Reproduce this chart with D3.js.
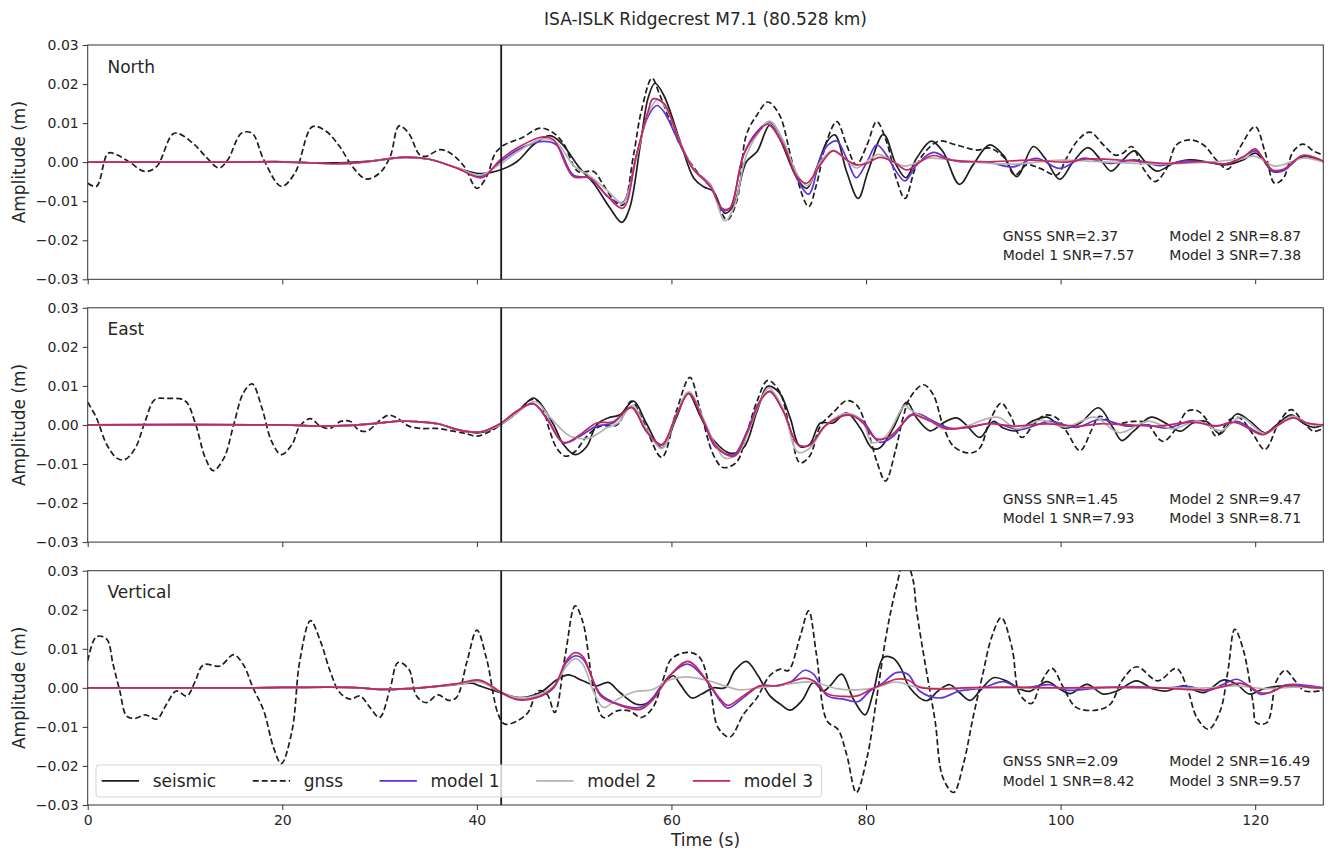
<!DOCTYPE html>
<html lang="en">
<head>
<meta charset="UTF-8">
<title>ISA-ISLK Ridgecrest M7.1</title>
<script src="https://cdn.jsdelivr.net/npm/d3@7"></script>
<style>
  body { margin: 0; background: #fff; }
  svg { display: block; font-family: "DejaVu Sans", sans-serif; }
</style>
</head>
<body>
<svg id="chart" width="1330" height="852"></svg>
<script>
// waveform samples: [time (s), amplitude (m)]
const northSeismic = [[0,0],[10,0],[20,0],[25,-0.0002],[29,0.0003],[32.5,0.0012],[35,0.0008],[38,-0.0015],[40.3,-0.0029],[42.4,-0.002],[44.1,0.0001],[45.8,0.0044],[47.5,0.0068],[48.7,0.0048],[50.6,-0.0016],[52.0,-0.0054],[53.7,-0.0118],[54.9,-0.0154],[55.7,-0.0118],[56.8,0.0044],[57.6,0.0164],[58.3,0.0202],[59.2,0.0172],[60.9,0.0053],[62.3,-0.0041],[63.3,-0.0063],[64.3,-0.0075],[65.5,-0.0131],[66.4,-0.011],[67.7,0.0001],[68.8,0.0027],[70.1,0.0095],[71.1,0.0061],[72.9,-0.0041],[73.9,-0.0067],[74.9,-0.0016],[76.0,0.0053],[76.8,0.007],[78.0,-0.0024],[79.2,-0.0093],[80.2,-0.0024],[81.8,0.0071],[83.1,-0.0007],[84.1,-0.004],[85.2,0.001],[86.7,0.0054],[87.9,0.0027],[89.6,-0.0057],[91.0,-0.0007],[92.7,0.0044],[94.1,0.0018],[95.5,-0.0037],[97.2,0.004],[98.4,0.001],[99.9,-0.0044],[101.3,0.0001],[102.8,0.0037],[104.0,0.001],[105.2,-0.0023],[106.4,0.0006],[107.6,0.0029],[108.7,0.0001],[109.9,-0.0023],[111.6,-0.0003],[113.3,0.0006],[115.0,0.0001],[116.9,-0.0007],[118.8,0.0006],[120.0,0.0023],[120.8,0.0006],[121.8,-0.0024],[122.9,-0.002],[124.9,0.0014],[127,0.0001]];
const northGnss = [[0,-0.0054],[0.9,-0.0062],[2.1,0.0023],[3,0.0019],[4.3,0],[5.9,-0.0024],[7.1,-0.0011],[8.9,0.0074],[10.8,0.0049],[12.1,0.0015],[13.5,-0.0015],[14.4,0.0006],[15.8,0.0074],[16.9,0.0074],[18.1,0.0006],[19.9,-0.0062],[21.3,-0.0028],[23.1,0.0091],[24.5,0.0079],[25.9,0.004],[27.2,-0.0011],[28.6,-0.0043],[30.0,-0.0028],[31.1,0.0015],[32.0,0.0093],[33.0,0.0074],[34.1,0.0019],[34.8,0.0015],[36.2,0.0032],[37.3,0.0023],[38.7,-0.0011],[40.0,-0.0067],[41.0,-0.0037],[41.9,0.0023],[42.8,0.0044],[44.6,0.0062],[46.5,0.0087],[47.7,0.0078],[48.9,0.0048],[50.4,-0.0024],[52.0,-0.0024],[53.0,-0.0058],[54.2,-0.0101],[55.0,-0.011],[56.1,0.0018],[56.9,0.013],[58.0,0.0215],[58.8,0.0172],[60.9,0.0044],[62.6,-0.0024],[64.1,-0.0067],[65.7,-0.0148],[66.7,-0.0101],[67.7,0.007],[68.8,0.0121],[69.9,0.0154],[71.1,0.0121],[72.5,-0.0007],[74.1,-0.0114],[74.9,-0.0058],[76.0,0.0057],[77.0,0.0104],[78.0,0.0044],[79.0,-0.0007],[80.1,0.0044],[81.1,0.0104],[82.1,0.0053],[83.1,-0.0041],[84.0,-0.0093],[85.2,-0.0007],[86.6,0.004],[87.6,0.0054],[89.3,0.0044],[91.4,0.0031],[92.7,0.0036],[94.1,0.0014],[95.3,-0.0033],[96.5,-0.0007],[97.9,-0.0016],[99.6,-0.0033],[100.6,0.001],[101.8,0.0057],[103.0,0.0077],[104.4,0.0044],[105.6,0.0018],[106.4,0.0023],[107.3,0.004],[108.5,-0.0016],[109.7,-0.005],[110.9,-0.0016],[111.9,0.0044],[113.3,0.0057],[114.7,0.0044],[116.0,0.0006],[117.2,-0.0018],[118.4,0.0036],[120.0,0.0091],[121.0,0.0027],[122.0,-0.0054],[122.9,-0.0041],[123.9,0.0027],[124.9,0.0046],[126.1,0.0027],[127,0.0018]];
const northModel1 = [[0,0],[15,0],[20,0.0001],[26,-0.0004],[29,0.0002],[32.5,0.0012],[35,0.0008],[38,-0.0015],[40.3,-0.0037],[42.4,0.0001],[44.4,0.0034],[46.8,0.0053],[48.2,0.0044],[49.9,-0.0033],[51.6,-0.0041],[53.7,-0.0093],[55.0,-0.0103],[56.4,0.0018],[57.6,0.0117],[58.5,0.0145],[59.2,0.013],[60.9,0.0044],[62.2,-0.0016],[64.0,-0.0058],[65.2,-0.0123],[66.0,-0.0118],[67.4,0.0018],[68.8,0.0078],[70.1,0.0102],[71.5,0.0053],[72.9,-0.0041],[74.1,-0.0082],[75.3,0.001],[76.1,0.0044],[77.0,0.0054],[78.0,0.001],[79.0,-0.004],[80.1,0.0001],[81.1,0.0044],[82.1,0.0018],[83.1,-0.0024],[84.0,-0.0048],[85.2,-0.0007],[86.9,0.0025],[88.3,0.001],[89.6,0.0001],[92.4,0.0001],[95.1,-0.0012],[97.5,0.001],[99.9,-0.0016],[102.3,0.001],[105.1,-0.0003],[107.5,0.0006],[110.2,-0.0009],[112.6,0.0003],[115.0,0],[117.1,-0.0004],[118.8,0.0014],[120.0,0.0029],[120.8,0.001],[121.8,-0.0024],[122.9,-0.0022],[124.9,0.0017],[127,0.0001]];
const northModel2 = [[0,0],[15,0],[20,0.0001],[26,-0.0004],[29,0.0002],[32.5,0.0012],[35,0.0008],[38,-0.0014],[40.3,-0.0033],[42.4,-0.0005],[44.4,0.003],[46.8,0.006],[48.2,0.005],[50,-0.001],[51.6,-0.0035],[53.5,-0.0075],[55,-0.0105],[56.4,0.001],[57.6,0.0125],[58.6,0.016],[59.4,0.014],[61,0.0045],[62.5,-0.0025],[64,-0.006],[65.5,-0.015],[66.5,-0.011],[67.6,0.001],[68.8,0.007],[70.1,0.0105],[71.5,0.0055],[72.9,-0.003],[74,-0.006],[75.3,0],[76.6,0.003],[78,0.0005],[79,-0.0015],[80,0],[81.3,0.002],[82.5,0.0005],[84,-0.001],[86.5,0.001],[90,0.0002],[95,-0.0005],[100,0.0005],[105,0],[110,-0.0005],[115,0],[118.5,0.0008],[120,0.0015],[122,-0.001],[125,0.001],[127,0]];
const northModel3 = [[0,0],[15,0],[20,0.0001],[26,-0.0004],[29,0.0002],[32.5,0.0013],[35,0.0008],[38,-0.0016],[40.5,-0.004],[42.4,0.0006],[44.4,0.004],[46.8,0.0065],[47.9,0.0057],[49.9,-0.0037],[51.6,-0.004],[53.3,-0.0084],[55.0,-0.0118],[56.4,0.0018],[57.6,0.013],[58.1,0.0162],[59.2,0.0151],[60.9,0.0048],[62.2,-0.0016],[64.0,-0.0063],[65.2,-0.0118],[66.0,-0.0118],[67.4,0.0018],[68.8,0.0074],[69.9,0.0097],[71.5,0.0044],[72.9,-0.0037],[73.9,-0.0054],[75.3,-0.0007],[76.6,0.0029],[78.0,0.0006],[79.0,-0.0007],[80.1,-0.0003],[81.4,0.0012],[82.8,0.0001],[84.2,-0.002],[85.5,0],[86.9,0.0017],[88.6,0.0006],[92.0,0.0001],[97.2,0.0005],[100.6,0],[102.7,0.0008],[107.5,0.0003],[110.9,-0.0003],[114.3,0.0001],[117.1,-0.0004],[118.8,0.0014],[120.0,0.0034],[120.8,0.001],[121.8,-0.002],[122.9,-0.0018],[124.9,0.0017],[127,0.0003]];

const eastSeismic = [[0,0],[20,0],[24,-0.0003],[27,-0.0001],[30,0.0005],[32,0.001],[34,0.0008],[36,0.0003],[38,-0.0012],[40.3,-0.002],[42.4,0],[44.1,0.0031],[45.8,0.0069],[46.5,0.0056],[47.9,0],[48.9,-0.005],[50.1,-0.0076],[51.3,-0.0055],[52.3,0],[53.5,0.0018],[54.7,0.0026],[56.1,0.0061],[57.4,0.0005],[59.0,-0.0059],[60.5,0.0018],[61.7,0.0082],[62.9,0.0026],[64.3,-0.0038],[66.0,-0.0072],[67.4,-0.0059],[68.8,0.0035],[69.9,0.0099],[71.1,0.0082],[72.2,0.0018],[73.2,-0.0055],[74.2,-0.005],[75.3,0.0005],[76.6,0.0005],[78.0,0.0031],[79.4,-0.0008],[80.6,-0.0059],[81.4,-0.0059],[82.8,-0.0008],[84.2,0.0058],[85.2,0.0018],[86.6,-0.0015],[87.9,0.0005],[89.3,0.0018],[90.3,0],[91.7,-0.0032],[93.1,0.0009],[94.1,-0.0008],[95.5,-0.0015],[97.2,0.0011],[98.6,0.002],[100.3,-0.0008],[102.0,0.0005],[103.9,0.0044],[105.4,-0.0008],[106.3,-0.004],[107.5,-0.0016],[109.3,0.002],[110.9,0.0003],[112.3,-0.0016],[113.6,0.0005],[115.0,0.0009],[116.4,-0.0023],[118.1,0.0028],[119.5,0.0009],[121.0,-0.002],[122.2,0],[123.7,0.0026],[124.9,0.0005],[126,-0.0006],[127,0]];
const eastGnss = [[0,0.0058],[0.9,0.0018],[1.95,-0.005],[3.0,-0.0085],[3.8,-0.0089],[4.9,-0.0059],[5.9,0.0009],[6.9,0.0065],[8.1,0.0068],[10.0,0.0062],[11.0,0.0009],[12.1,-0.0085],[12.9,-0.0117],[14.0,-0.0085],[15.0,0],[16.0,0.0082],[16.9,0.0105],[17.9,0.0044],[18.9,-0.0042],[19.9,-0.0076],[21.0,-0.005],[21.8,-0.0003],[22.9,0.0016],[23.9,-0.0003],[24.9,-0.0009],[26.0,0.0009],[27.0,0.0009],[27.8,-0.0012],[28.7,-0.0016],[29.9,0.0009],[30.9,0.0025],[31.8,0.0018],[33.0,-0.0003],[34.2,-0.0009],[35.9,-0.0009],[37.6,-0.0016],[39.0,-0.0023],[40.0,-0.0029],[41.4,-0.0016],[42.4,0],[44.1,0.0031],[45.6,0.0065],[46.5,0.0056],[47.5,-0.0016],[48.2,-0.0059],[49.1,-0.008],[50.1,-0.0068],[51.3,-0.0029],[52.7,-0.0003],[54.4,0],[55.9,0.0061],[57.1,0.0009],[59.0,-0.0083],[60.5,0.0035],[61.9,0.0122],[62.9,0.0044],[64.3,-0.0076],[65.3,-0.0109],[66.7,-0.0095],[67.7,-0.0025],[68.8,0.0061],[69.9,0.0114],[71.1,0.0086],[72.3,-0.0025],[73.2,-0.0097],[74.2,-0.008],[75.3,-0.0003],[76.6,0.0031],[78.0,0.0062],[79.0,0.0052],[80.1,-0.0008],[81.1,-0.0093],[82.0,-0.0144],[83.0,-0.0068],[83.8,0.0018],[84.5,0.0069],[85.9,0.0103],[86.9,0.0078],[87.9,0],[89.0,-0.0055],[90.7,-0.0072],[91.7,-0.0059],[92.7,0.0009],[93.9,0.0056],[94.8,0.0026],[96.0,-0.0032],[97.2,0],[98.4,0.0025],[99.6,0.0018],[100.6,-0.0016],[102.0,-0.0066],[103.2,-0.0012],[104.0,0.0022],[105.4,0.0003],[107.5,0.0009],[108.8,0.0005],[110.5,-0.0042],[111.9,-0.0008],[113.0,0.0035],[114.0,0.0037],[115.0,0.0014],[116.0,-0.0029],[117.4,0.0014],[118.4,0.0018],[119.8,-0.0025],[121.0,-0.0063],[122.5,0.0009],[123.7,0.0039],[124.9,0.0009],[126,-0.0016],[127,-0.0009]];
const eastModel1 = [[0,0],[20,0],[24,-0.0003],[27,-0.0001],[30,0.0005],[32,0.001],[34,0.0008],[36,0.0003],[38,-0.0012],[40.3,-0.0018],[42.4,0.0003],[44.1,0.0035],[45.8,0.0054],[47.2,0.0018],[48.9,-0.0046],[50.6,-0.0029],[52.3,-0.0003],[54.0,0.0005],[55.9,0.0045],[57.4,-0.0016],[59.0,-0.0052],[60.5,0.0026],[61.8,0.0082],[63.3,0.0009],[64.6,-0.0059],[66.4,-0.0076],[67.7,-0.002],[69.1,0.0062],[70.1,0.0086],[71.5,0.0035],[73.0,-0.005],[74.2,-0.0052],[75.9,0],[78.3,0.0028],[79.7,0.0009],[81.4,-0.0044],[82.8,-0.0029],[84.5,0.0025],[85.5,0.0028],[86.6,0.0014],[88.6,-0.0008],[90.7,-0.0006],[93.1,0.0005],[95.8,-0.0012],[98.9,0.0009],[101.6,-0.0006],[104.0,0.0014],[106.8,-0.0003],[108.8,0],[110.9,-0.0008],[113.6,0.0011],[116.0,-0.0003],[118.1,0.0009],[120.8,-0.0023],[122.2,-0.0003],[123.9,0.0022],[125.3,0.0005],[127,0]];
const eastModel2 = [[0,0],[20,0],[24,-0.0003],[27,-0.0001],[30,0.0005],[32,0.001],[34,0.0008],[36,0.0003],[38,-0.0012],[40.3,-0.0018],[42.4,0],[44.1,0.003],[46,0.006],[47.5,0.002],[49.6,-0.0029],[51.6,-0.0033],[53.3,-0.0008],[54.5,0.0005],[56,0.005],[57.4,-0.001],[59,-0.006],[60.5,0.0025],[61.8,0.0085],[63.3,0.0015],[64.6,-0.0055],[65.5,-0.0085],[66.8,-0.0075],[68,-0.001],[69.3,0.007],[70,0.0095],[71.5,0.004],[73,-0.007],[74.2,-0.006],[75.9,0],[78,0.003],[79.7,0.0005],[80.6,-0.0045],[82,-0.003],[84,0.005],[84.5,0.004],[86.6,0.001],[88,-0.001],[90,-0.0005],[93.5,0.002],[95.5,-0.001],[98,0.0012],[100.5,-0.0005],[103.5,0.002],[106,-0.002],[109,0.001],[111.5,-0.001],[114,0.001],[116.5,-0.0015],[118.5,0.002],[121,-0.0022],[123.8,0.0022],[125.5,0.0002],[127,0]];
const eastModel3 = [[0,0],[20,0],[24,-0.0003],[27,-0.0001],[30,0.0005],[32,0.001],[34,0.0008],[36,0.0003],[38,-0.0012],[40.3,-0.0018],[42.4,0.0003],[44.1,0.0035],[45.8,0.0055],[47.2,0.0015],[48.9,-0.0045],[50.6,-0.0025],[52.3,0.0005],[54.0,0.0008],[55.9,0.0045],[57.4,-0.0015],[59.0,-0.005],[60.5,0.0025],[61.8,0.008],[63.3,0.001],[64.6,-0.0055],[66.4,-0.008],[67.7,-0.0025],[69.1,0.006],[70.1,0.0086],[71.5,0.0035],[73.0,-0.005],[74.2,-0.0052],[75.9,0],[78.3,0.0025],[79.7,0.0005],[81.0,-0.0035],[82.4,-0.003],[84.5,0.0022],[84.9,0.0026],[86.6,0.001],[88.3,-0.001],[90.5,-0.0005],[92.5,0.0003],[95.5,-0.0003],[98.5,0.0003],[102,-0.0003],[104,0.0003],[107,0],[110,-0.0003],[113.5,0.0007],[116,-0.0002],[118,0.0006],[120.8,-0.0025],[122.2,-0.0003],[123.9,0.0018],[125.3,0.0005],[127,0]];

const vertSeismic = [[0,0],[17,0],[20,0.0001],[25,0.0002],[28,0],[30,-0.0004],[33,-0.0002],[35,0.0002],[37,0.0006],[39.5,0.0012],[40.3,0.0005],[42.4,-0.0012],[44.4,-0.0025],[46.5,-0.0012],[48.2,0.002],[49.4,0.0033],[50.9,0.0018],[52.3,0.0005],[53.5,0.0014],[54.7,-0.0012],[56.4,-0.0042],[57.6,-0.0038],[59.0,0.0005],[60.2,0.0031],[60.9,0.0009],[62.1,-0.0026],[63.1,-0.0016],[64.3,0],[65.5,0],[66.5,0.0044],[67.7,0.0068],[68.9,0.0031],[70.1,-0.002],[71.2,-0.0042],[72.2,-0.0057],[73.4,-0.0033],[74.6,0.0014],[75.6,-0.0008],[76.3,0.0005],[77.5,0.0035],[78.7,-0.0029],[79.9,-0.0069],[80.7,-0.0016],[81.8,0.0078],[82.8,0.0076],[83.6,0.005],[84.5,0],[86.2,-0.0033],[87.4,-0.0008],[88.6,0.0008],[89.6,-0.0012],[90.7,-0.0032],[91.7,-0.0008],[93.1,0.0026],[94.4,0.0018],[95.8,-0.0003],[96.8,-0.0009],[98.6,0.0016],[99.9,-0.0003],[101.0,-0.0015],[102.7,0.0009],[104.4,-0.0016],[105.8,-0.0008],[107.8,0.0018],[109.5,-0.0003],[110.9,-0.0008],[112.6,0.0005],[114.7,-0.0012],[116.7,0.002],[118.1,0.0009],[119.4,-0.0016],[120.8,-0.0003],[122.9,0.0005],[127,0]];
const vertGnss = [[0,0.0069],[0.9,0.0131],[1.95,0.0125],[2.6,0.0061],[3.3,-0.0008],[4.0,-0.0072],[4.9,-0.0078],[5.9,-0.0069],[7.1,-0.008],[8.1,-0.0042],[9.1,-0.0008],[10.2,-0.0021],[11.0,0.0014],[11.9,0.0059],[13.6,0.0056],[15.0,0.0085],[16.0,0.0059],[17.0,0],[18.1,-0.0059],[19.1,-0.0153],[19.9,-0.0194],[21.0,-0.011],[21.8,0.0069],[22.9,0.0172],[23.9,0.0121],[24.9,0.0044],[25.9,-0.0012],[27.0,-0.0029],[28.0,-0.0021],[29.0,-0.005],[30.0,-0.0076],[31.1,0],[31.9,0.0065],[33.0,0.0048],[33.8,-0.0021],[34.8,-0.0038],[36.0,-0.0018],[37.1,-0.0032],[37.9,-0.0025],[39.0,0.0069],[40.0,0.0148],[41.0,0.0074],[42.2,-0.0068],[42.9,-0.0093],[45.1,-0.0068],[46.3,-0.0008],[47.2,-0.0016],[48.0,-0.0063],[49.1,0.0086],[50.1,0.021],[50.9,0.0168],[52.0,0],[53.0,-0.0076],[54.4,-0.0059],[55.7,-0.0059],[56.9,-0.0076],[58.1,-0.005],[59.2,0.0026],[60.0,0.0074],[61.7,0.0091],[62.9,0.0078],[64.0,-0.0008],[64.8,-0.0102],[66.0,-0.0126],[67.4,-0.0068],[68.8,-0.0025],[70.1,0.0031],[71.2,0.0048],[72.0,0.0044],[73.2,0.0129],[74.1,0.0197],[74.9,0.0086],[76.0,-0.0085],[77.1,-0.0106],[78.0,-0.017],[79.0,-0.0268],[80.1,-0.0179],[81.1,-0.0025],[82.1,0.0138],[83.1,0.0257],[84.0,0.033],[84.8,0.028],[85.2,0.0197],[86.2,0.0044],[87.1,-0.0085],[87.9,-0.023],[89.0,-0.0268],[90.0,-0.0196],[91.0,-0.0076],[92.0,0.0035],[92.9,0.0129],[93.9,0.018],[95.0,0.0103],[95.8,-0.0016],[97.0,-0.004],[98.0,0.0014],[99.1,0.005],[100.3,0],[101.6,-0.005],[103.7,-0.0057],[105.1,-0.0042],[106.3,0.0018],[107.8,0.0054],[110.0,0.0018],[111.9,0.005],[113.0,0],[114.0,-0.0076],[115.2,-0.0106],[116.4,-0.0059],[117.2,0.0044],[117.9,0.015],[118.8,0.0095],[119.8,-0.0042],[120.1,-0.0089],[121.2,-0.0089],[122.2,0.0018],[123.1,0.0045],[124.1,0.0018],[125.1,-0.0008],[127,-0.0006]];
const vertModel1 = [[0,0],[17,0],[20,0.0001],[25,0.0002],[28,0],[30,-0.0004],[33,-0.0002],[35,0.0002],[38,0.001],[40.3,0.0018],[42.4,-0.0012],[44.1,-0.0029],[46.1,-0.0025],[47.9,0],[49.2,0.0065],[50.1,0.0082],[50.9,0.0074],[52.7,-0.0016],[54.4,-0.004],[56.8,-0.005],[58.1,-0.0025],[59.8,0.0031],[61.7,0.0061],[63.6,0.0018],[65.0,-0.0033],[65.8,-0.0052],[67.4,-0.0025],[69.1,0.0005],[70.8,0.0005],[72.2,0.0014],[73.7,0.0045],[74.6,0.0035],[76.0,-0.002],[77.7,-0.0029],[79.2,-0.0035],[80.4,-0.0008],[81.8,0.0014],[83.1,0.0039],[84.3,0.0035],[85.5,-0.0008],[87.6,-0.0026],[89.6,-0.0008],[92.0,0],[94.1,0.0016],[95.8,0],[98.9,0.0008],[100.6,-0.0006],[104.0,0],[107.5,0.0003],[110.9,0],[113.3,0.0003],[115.0,-0.0008],[116.7,0.0009],[118.1,0.0022],[119.1,0.0009],[120.5,-0.0016],[121.5,-0.0012],[123.2,0.0008],[127,0]];
const vertModel2 = [[0,0],[17,0],[20,0.0001],[25,0.0002],[28,0],[30,-0.0004],[33,-0.0002],[35,0.0002],[38,0.0009],[40.3,0.0015],[42.4,-0.001],[44.1,-0.0025],[46.1,-0.002],[47.9,0.0005],[49.2,0.0055],[50.1,0.0075],[50.9,0.006],[52.0,-0.001],[53,-0.005],[54.4,-0.003],[56.2,-0.001],[58,-0.0005],[59.8,0.002],[61.5,0.0028],[63.5,0.002],[65.5,0.0005],[67,-0.0005],[69,0],[72,0.001],[74.5,0.0015],[77,-0.0002],[79,-0.0005],[81,0],[83,0.0015],[85,0.0003],[88,-0.0002],[92,0],[100,0],[105,0.0001],[110,0],[115,0],[118,0.0005],[121,-0.0002],[124,0.0002],[127,0]];
const vertModel3 = [[0,0],[17,0],[20,0.0001],[25,0.0002],[28,0],[30,-0.0004],[33,-0.0002],[35,0.0002],[38,0.0011],[40.3,0.002],[42.4,-0.001],[44.1,-0.003],[46.1,-0.0025],[47.9,0.0002],[49.2,0.007],[50.1,0.009],[50.9,0.008],[52.7,-0.002],[54.4,-0.0042],[56.8,-0.0055],[58.1,-0.003],[59.8,0.003],[61.7,0.0068],[63.6,0.002],[65.0,-0.0028],[65.8,-0.0045],[67.4,-0.002],[69.1,0.0005],[70.8,0.0005],[72.2,0.0015],[73.7,0.0025],[74.6,0.0018],[76.0,-0.0015],[77.7,-0.0022],[79.2,-0.002],[80.4,-0.0005],[81.8,0.001],[83.1,0.0022],[84.3,0.002],[85.5,0.0002],[87.6,-0.0003],[90,0],[94,0.0002],[100,0],[105,0.0001],[110,0],[115,-0.0005],[117,0.0005],[118.3,0.0012],[119.3,0.0005],[120.5,-0.0012],[121.5,-0.0012],[123,0.0005],[124,0.0007],[125.5,0.0001],[127,0]];

const components = ["North", "East", "Vertical"];
const seriesNames = ["seismic", "gnss", "model 1", "model 2", "model 3"];
const snrGnss = ["2.37", "1.45", "2.09"];
const snrModel1 = ["7.57", "7.93", "8.42"];
const snrModel2 = ["8.87", "9.47", "16.49"];
const snrModel3 = ["7.38", "8.71", "9.57"];
const xTicks = [0, 20, 40, 60, 80, 100, 120];
const yTicks = [-0.03, -0.02, -0.01, 0, 0.01, 0.02, 0.03];
const onsetTime = 42.5;

const panelData = [
  [northSeismic, northGnss, northModel1, northModel2, northModel3],
  [eastSeismic, eastGnss, eastModel1, eastModel2, eastModel3],
  [vertSeismic, vertGnss, vertModel1, vertModel2, vertModel3]
];

const lineStyles = [
  {color: "#1e1e1e", dash: null},
  {color: "#1e1e1e", dash: "6,3"},
  {color: "#6234d8", dash: null},
  {color: "#b3b3b3", dash: null},
  {color: "#c6265f", dash: null}
];

const svg = d3.select("#chart");
const textColor = "#262626";
const left = 87.7, right = 1323.3;
const panelTops = [45, 307.8, 570.7];
const panelH = 234.3;

const x = d3.scaleLinear().domain([0, 127]).range([left, right]);

// title
svg.append("text")
  .attr("x", (left + right) / 2).attr("y", 25)
  .attr("text-anchor", "middle")
  .attr("font-size", 17).attr("fill", textColor)
  .text("ISA-ISLK Ridgecrest M7.1 (80.528 km)");

panelData.forEach((series, i) => {
  const top = panelTops[i];
  const y = d3.scaleLinear().domain([-0.03, 0.03]).range([top + panelH, top]);
  const g = svg.append("g");

  // clip so traces stay inside the axes box
  svg.append("clipPath").attr("id", "clip" + i)
    .append("rect").attr("x", left).attr("y", top)
    .attr("width", right - left).attr("height", panelH);

  const line = d3.line()
    .x(d => x(d[0]))
    .y(d => y(d[1]))
    .curve(d3.curveCatmullRom.alpha(0.5));

  const traces = g.append("g").attr("clip-path", `url(#clip${i})`);
  series.forEach((pts, k) => {
    traces.append("path")
      .datum(pts)
      .attr("fill", "none")
      .attr("stroke", lineStyles[k].color)
      .attr("stroke-width", 1.7)
      .attr("stroke-dasharray", lineStyles[k].dash)
      .attr("stroke-linejoin", "round")
      .attr("d", line);
  });

  // P-wave onset marker
  g.append("line")
    .attr("x1", x(onsetTime)).attr("x2", x(onsetTime))
    .attr("y1", top).attr("y2", top + panelH)
    .attr("stroke", "#1a1a1a").attr("stroke-width", 1.8);

  // axes
  const yAxis = g.append("g").attr("transform", `translate(${left},0)`)
    .call(d3.axisLeft(y).tickValues(yTicks).tickSize(5).tickPadding(4)
      .tickFormat(d3.format(".2f")));
  const xAxis = g.append("g").attr("transform", `translate(0,${top + panelH})`)
    .call(d3.axisBottom(x).tickValues(xTicks).tickSize(5).tickPadding(5)
      .tickFormat(i === 2 ? d3.format("d") : () => ""));
  [yAxis, xAxis].forEach(a => {
    a.select(".domain").remove();
    a.selectAll("line").attr("stroke", "#333");
    a.selectAll("text").attr("font-size", 14).attr("fill", textColor)
      .attr("font-family", "DejaVu Sans");
  });

  g.append("rect")
    .attr("x", left).attr("y", top)
    .attr("width", right - left).attr("height", panelH)
    .attr("fill", "none").attr("stroke", "#333").attr("stroke-width", 1);

  // y label
  g.append("text")
    .attr("transform", `translate(25,${top + panelH / 2}) rotate(-90)`)
    .attr("text-anchor", "middle")
    .attr("font-size", 17).attr("fill", textColor)
    .text("Amplitude (m)");

  // component name
  g.append("text")
    .attr("x", 107.5).attr("y", top + 27.5)
    .attr("font-size", 17).attr("fill", textColor)
    .text(components[i]);

  // SNR annotations
  const snr = [
    [1002.7, 195.7, `GNSS SNR=${snrGnss[i]}`],
    [1002.7, 215, `Model 1 SNR=${snrModel1[i]}`],
    [1169.3, 195.7, `Model 2 SNR=${snrModel2[i]}`],
    [1169.3, 215, `Model 3 SNR=${snrModel3[i]}`]
  ];
  snr.forEach(s => {
    g.append("text")
      .attr("x", s[0]).attr("y", top + s[1])
      .attr("font-size", 14).attr("fill", textColor)
      .text(s[2]);
  });
});

// x label
svg.append("text")
  .attr("x", (left + right) / 2).attr("y", 846)
  .attr("text-anchor", "middle")
  .attr("font-size", 17).attr("fill", textColor)
  .text("Time (s)");

// legend in the bottom panel
const legTop = panelTops[2] + 194.3;
const legend = svg.append("g");
const legBox = legend.append("rect")
  .attr("x", 96).attr("y", legTop)
  .attr("height", 32).attr("rx", 3)
  .attr("fill", "#fff").attr("fill-opacity", 0.8)
  .attr("stroke", "#d4d4d4").attr("stroke-width", 1);

const colGap = 36.5;
let cursor = 101.7;
seriesNames.forEach((name, k) => {
  legend.append("line")
    .attr("x1", cursor).attr("x2", cursor + 37.4)
    .attr("y1", legTop + 15.8).attr("y2", legTop + 15.8)
    .attr("stroke", lineStyles[k].color)
    .attr("stroke-width", 1.7)
    .attr("stroke-dasharray", lineStyles[k].dash);
  const t = legend.append("text")
    .attr("x", cursor + 37.4 + 13.6).attr("y", legTop + 21.8)
    .attr("font-size", 17).attr("fill", textColor)
    .text(name);
  const w = t.node().getComputedTextLength();
  cursor = cursor + 37.4 + 13.6 + w + colGap;
});
legBox.attr("width", cursor - colGap + 8.5 - 96);
</script>
</body>
</html>
